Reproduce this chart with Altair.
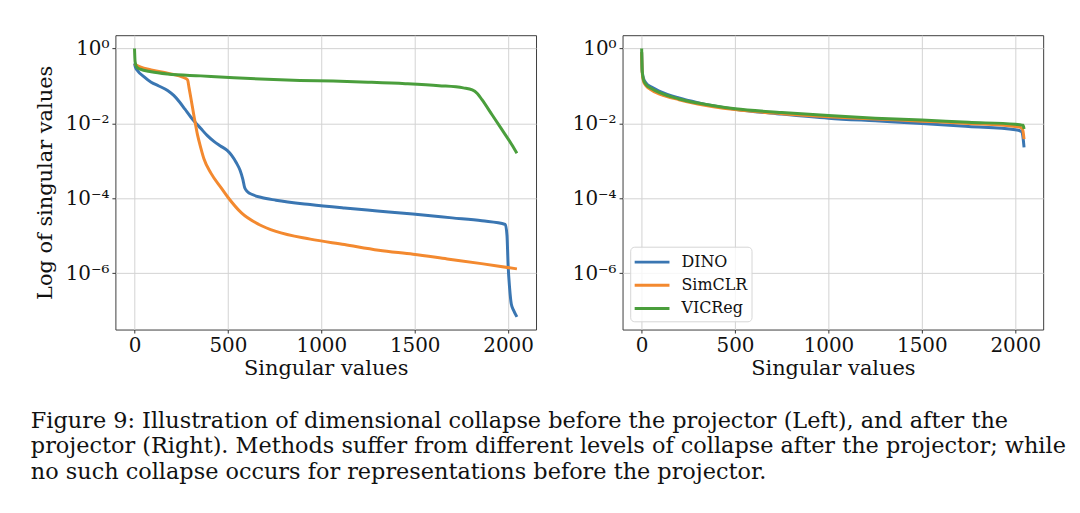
import altair as alt
import pandas as pd

methods = ["DINO", "SimCLR", "VICReg"]
colors = ["#3a76b2", "#f3892f", "#4a9e3c"]

# ---- Left panel (before projector) ----
left_dino_x = [0, 5, 18, 50, 89, 130, 177, 210, 240, 270, 300, 330, 354, 390, 425, 460, 496, 520, 545, 565, 580, 590, 605, 630, 680, 757, 940, 1124, 1300, 1490, 1700, 1860, 1985, 1994, 2000, 2008, 2017, 2030, 2047]
left_dino_y = [0.40, 0.316, 0.251, 0.178, 0.126, 0.100, 0.076, 0.056, 0.038, 0.024, 0.0151, 0.0100, 0.0074, 0.0047, 0.0033, 0.0025, 0.0019, 0.0014, 8.9e-4, 5.6e-4, 3.2e-4, 1.9e-4, 1.5e-4, 1.26e-4, 1.05e-4, 8.9e-5, 6.8e-5, 5.5e-5, 4.6e-5, 3.8e-5, 3.0e-5, 2.5e-5, 2.0e-5, 1.0e-5, 1.6e-6, 4.0e-7, 1.5e-7, 1.0e-7, 6.8e-8]

left_simclr_x = [0, 9, 89, 177, 266, 284, 292, 301, 319, 337, 354, 372, 409, 464, 501, 574, 666, 757, 941, 1124, 1307, 1491, 1674, 1857, 2047]
left_simclr_y = [0.40, 0.363, 0.269, 0.219, 0.166, 0.145, 0.089, 0.050, 0.0151, 0.0050, 0.0023, 0.00112, 4.7e-4, 1.9e-4, 1.05e-4, 4.0e-5, 2.0e-5, 1.3e-5, 8.1e-6, 5.8e-6, 4.1e-6, 3.2e-6, 2.4e-6, 1.8e-6, 1.3e-6]

left_vicreg_x = [0, 3, 10, 30, 89, 177, 354, 532, 709, 886, 1063, 1250, 1450, 1630, 1760, 1808, 1835, 1860, 1914, 1967, 2020, 2047]
left_vicreg_y = [1.0, 0.45, 0.33, 0.28, 0.24, 0.209, 0.186, 0.166, 0.151, 0.141, 0.135, 0.126, 0.115, 0.102, 0.089, 0.079, 0.063, 0.043, 0.017, 0.0068, 0.0027, 0.0016]

# ---- Right panel (after projector) ----
right_x = [0, 3, 10, 25, 50, 100, 200, 300, 500, 750, 1000, 1250, 1500, 1750, 2000, 2035, 2042, 2047]
right_dino_y = [0.8, 0.25, 0.158, 0.117, 0.095, 0.071, 0.048, 0.036, 0.024, 0.0178, 0.0138, 0.0117, 0.0100, 0.0083, 0.0068, 0.0060, 0.0040, 0.0023]
right_simclr_y = [0.8, 0.224, 0.132, 0.100, 0.079, 0.060, 0.043, 0.033, 0.0234, 0.0182, 0.0151, 0.0132, 0.0115, 0.0100, 0.0083, 0.0076, 0.0060, 0.0038]
right_vicreg_y = [1.0, 0.25, 0.145, 0.107, 0.087, 0.065, 0.045, 0.035, 0.0245, 0.0195, 0.0162, 0.0138, 0.0123, 0.0107, 0.0095, 0.0090, 0.0089, 0.0071]

x_ticks = [0, 500, 1000, 1500, 2000]
y_ticks = [1, 1e-2, 1e-4, 1e-6]
x_domain = [-102.35, 2149.35]
y_domain = [10 ** -7.506, 10 ** 0.356]

caption = [
    "Figure 9: Illustration of dimensional collapse before the projector (Left), and after the",
    "projector (Right). Methods suffer from different levels of collapse after the projector; while",
    "no such collapse occurs for representations before the projector.",
]


def frame(pairs):
    rows = []
    for method, xs, ys in pairs:
        for i, (a, b) in enumerate(zip(xs, ys)):
            rows.append({"method": method, "order": i, "index": a, "value": b})
    return pd.DataFrame(rows)


df_left = frame([("DINO", left_dino_x, left_dino_y),
                 ("SimCLR", left_simclr_x, left_simclr_y),
                 ("VICReg", left_vicreg_x, left_vicreg_y)])
df_right = frame([("DINO", right_x, right_dino_y),
                  ("SimCLR", right_x, right_simclr_y),
                  ("VICReg", right_x, right_vicreg_y)])

label_expr = ("'10' + (round(log(datum.value)/LN10) == 0 ? '⁰' : "
              "round(log(datum.value)/LN10) == -2 ? '⁻²' : "
              "round(log(datum.value)/LN10) == -4 ? '⁻⁴' : '⁻⁶')")

W, H = 423, 296


def panel(df, ytitle, legend):
    x = alt.X("index:Q",
              scale=alt.Scale(domain=x_domain, nice=False, zero=False),
              axis=alt.Axis(values=x_ticks, format="d", title="Singular values"))
    if ytitle:
        yaxis = alt.Axis(values=y_ticks, labelExpr=label_expr, title="Log of singular values",
                         titlePadding=10)
    else:
        yaxis = alt.Axis(values=y_ticks, labelExpr=label_expr, title=None)
    y = alt.Y("value:Q", scale=alt.Scale(type="log", domain=y_domain, nice=False), axis=yaxis)
    color = alt.Color("method:N", scale=alt.Scale(domain=methods, range=colors), legend=legend)
    return alt.Chart(df).mark_line(strokeWidth=3, interpolate="monotone", clip=True).encode(
        x=x, y=y, color=color, order="order:Q"
    ).properties(width=W, height=H)


leg = alt.Legend(
    title=None, orient="none", legendX=7.7, legendY=212.7,
    symbolType="M-1.75,0L1.75,0", symbolSize=400, symbolStrokeWidth=3,
    symbolOffset=6.5, labelOffset=18,
    labelFont="DejaVu Serif", labelFontSize=16, labelColor="#111111",
    fillColor="rgba(255,255,255,0.8)", strokeColor="#d6d6d6", cornerRadius=4,
    padding=4, rowPadding=3.3,
)

left = panel(df_left, True, None)
right = panel(df_right, False, leg)

chart = alt.hconcat(left, right, spacing=87, bounds="flush").resolve_scale(
    color="independent"
).resolve_legend(color="independent").properties(
    background="white",
    padding={"left": 22, "top": 25, "right": 5, "bottom": 5},
    title=alt.TitleParams(
        text=caption, orient="bottom", anchor="start", font="DejaVu Serif",
        fontSize=22.5, fontWeight="normal", lineHeight=25.5, color="#111111",
        offset=31, dx=-3,
    ),
).configure_view(
    stroke="#3d3d3d", strokeWidth=1
).configure_axis(
    grid=True, gridColor="#d3d3d3", gridWidth=1,
    domain=False, tickColor="#333333", tickSize=3.5, tickWidth=1,
    labelFont="DejaVu Serif", labelFontSize=20, labelColor="#111111", labelPadding=3,
    titleFont="DejaVu Serif", titleFontSize=21, titleFontWeight="normal", titleColor="#111111",
    titlePadding=2,
)

chart.save("out.html", embed_options={"renderer": "svg", "actions": False})
